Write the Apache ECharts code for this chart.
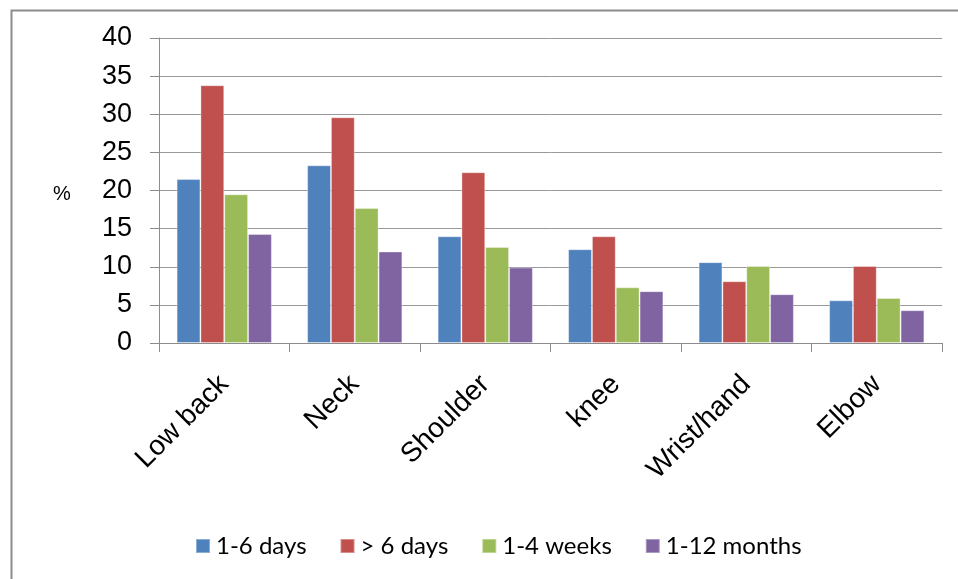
<!DOCTYPE html>
<html>
<head>
<meta charset="utf-8">
<script src="https://cdn.jsdelivr.net/npm/echarts@6/dist/echarts.min.js"></script>
<style>
html,body{margin:0;padding:0;background:#fff;}
#chart{width:958px;height:579px;}
</style>
</head>
<body>
<div id="chart"></div>
<script>
const categories = ['Low back', 'Neck', 'Shoulder', 'knee', 'Wrist/hand', 'Elbow'];
const seriesNames = ['1-6 days', '> 6 days', '1-4 weeks', '1-12 months'];
const days1to6 = [21.5, 23.3, 14.0, 12.3, 10.6, 5.6];
const daysOver6 = [33.8, 29.6, 22.4, 14.0, 8.1, 10.1];
const weeks1to4 = [19.5, 17.7, 12.6, 7.3, 10.1, 5.9];
const months1to12 = [14.3, 12.0, 9.9, 6.8, 6.4, 4.3];
const yTicks = [0, 5, 10, 15, 20, 25, 30, 35, 40];

const colors = ['#4F81BD', '#C0504D', '#9BBB59', '#8064A2'];
const values = [days1to6, daysOver6, weeks1to4, months1to12];

const chart = echarts.init(document.getElementById('chart'), null, {renderer: 'canvas'});
chart.setOption({
  animation: false,
  backgroundColor: '#fff',
  color: colors,
  grid: {left: 159, right: 16, top: 38, bottom: 236, containLabel: false},
  graphic: [
    {type: 'rect', left: 9, top: 8, shape: {width: 1000, height: 1000},
     style: {fill: 'none', stroke: '#8c8c8c', lineWidth: 2}, silent: true, z: -1},
    {type: 'text', x: 62, y: 194,
     style: {text: '%', font: '20px Arial, "Liberation Sans"', fill: '#000', align: 'center', verticalAlign: 'middle'}}
  ],
  legend: {
    data: seriesNames,
    top: 529,
    left: 190,
    itemWidth: 14,
    itemHeight: 14,
    itemGap: 33,
    icon: 'rect',
    textStyle: {fontFamily: 'Lato', fontSize: 24, color: '#000', padding: [0, 0, 0, 1]}
  },
  xAxis: {
    type: 'category',
    data: categories,
    axisLine: {show: true, lineStyle: {color: '#8c8c8c', width: 1}},
    axisTick: {show: true, alignWithLabel: false, length: 9, lineStyle: {color: '#8c8c8c'}},
    axisLabel: {rotate: 45, margin: 37, fontFamily: 'Arial, "Liberation Sans"', fontSize: 28, color: '#000', interval: 0},
    splitLine: {show: false}
  },
  yAxis: {
    type: 'value',
    min: 0, max: 40, interval: 5,
    axisLine: {show: true, lineStyle: {color: '#8c8c8c', width: 1}},
    axisTick: {show: true, length: 9, lineStyle: {color: '#8c8c8c'}},
    axisLabel: {margin: 27, fontFamily: 'Arial, "Liberation Sans"', fontSize: 27, color: '#000',
      formatter: v => yTicks.includes(v) ? String(v) : ''},
    splitLine: {show: true, lineStyle: {color: '#999', width: 1}}
  },
  series: seriesNames.map((name, i) => ({
    name: name,
    type: 'bar',
    data: values[i],
    barGap: '0%',
    barCategoryGap: '27%',
    itemStyle: {color: colors[i], borderColor: 'rgba(255,255,255,0.35)', borderWidth: 1}
  }))
});
</script>
</body>
</html>
